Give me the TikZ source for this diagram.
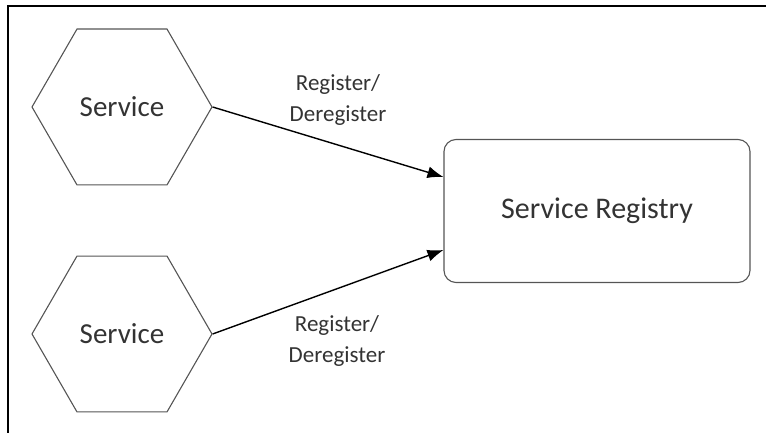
\documentclass[tikz,border=0pt]{standalone}
\usepackage{fontspec}
\setmainfont{Carlito}
\usepackage{tikz}
\usetikzlibrary{shapes.geometric,arrows.meta}
\definecolor{edgegray}{HTML}{555555}
\definecolor{textgray}{HTML}{333333}
\tikzset{
  hexa/.style={regular polygon,regular polygon sides=6,minimum size=180pt,inner sep=0pt,
    draw=edgegray,line width=1.1pt,text=textgray,font=\fontsize{29}{35}\selectfont},
  registry/.style={rectangle,rounded corners=12pt,minimum width=306pt,minimum height=143pt,
    draw=edgegray,line width=1.1pt,text=textgray,font=\fontsize{30}{36}\selectfont},
  regarrow/.style={line width=1.4pt,-{Latex[length=16pt,width=12pt]}},
  reglabel/.style={align=center,text=textgray,font=\fontsize{23}{31}\selectfont}
}
\begin{document}
\begin{tikzpicture}[x=1pt,y=1pt]
        \useasboundingbox (0,0) rectangle (766,433);
        \draw[line width=2.5pt] (766,427)--(8,427)--(8,0);
        \node[hexa] (svcA) at (122,326) {Service};
        \node[hexa] (svcB) at (122,99) {Service};
        \node[registry] (reg) at (597,222) {Service Registry};
        \draw[regarrow] (svcA.east)--([yshift=34pt]reg.west);
        \draw[regarrow] (svcB.east)--([yshift=-39pt]reg.west);
        \node[reglabel] (labA) at (338,333) {Register/\\Deregister};
        \node[reglabel] (labB) at (337,92) {Register/\\Deregister};
\end{tikzpicture}
\end{document}
